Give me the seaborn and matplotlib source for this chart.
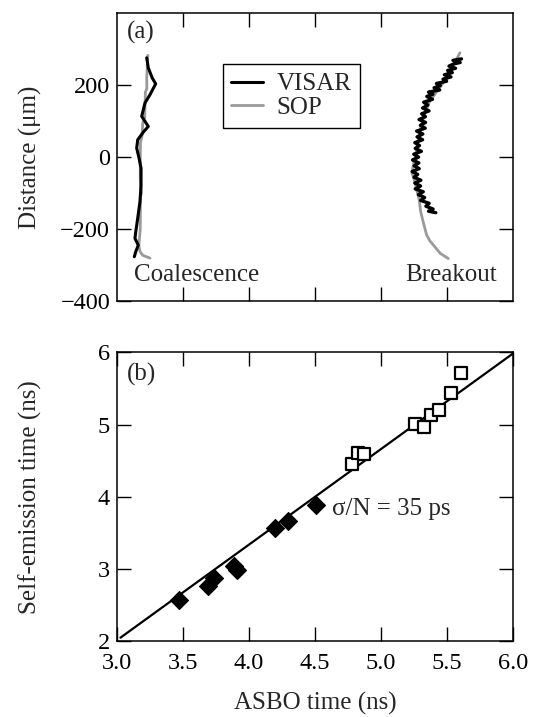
# 两个面板：(a) 冲击波前形状，(b) 自发光时间 vs ASBO 时间
import numpy as np
import matplotlib
matplotlib.use("Agg")
import matplotlib.pyplot as plt
import seaborn as sns

# (a) Coalescence 处 VISAR / SOP 曲线 (时间 ns, 距离 um)
coal_visar_t = [3.225, 3.237, 3.267, 3.293, 3.250, 3.212, 3.187, 3.237, 3.199, 3.157,
                3.149, 3.167, 3.182, 3.182, 3.174, 3.157, 3.142, 3.136, 3.161, 3.142, 3.131]
coal_visar_d = [275, 247, 219, 203, 173, 150, 113, 85, 69, 48,
                25, -3, -31, -77, -123, -169, -207, -225, -244, -262, -276]
coal_sop_t = [3.233, 3.230, 3.225, 3.226, 3.215, 3.212, 3.210, 3.195, 3.190, 3.178,
              3.176, 3.176, 3.185, 3.178, 3.176, 3.170, 3.165, 3.175, 3.195, 3.250]
coal_sop_d = [282, 255, 220, 190, 180, 140, 110, 95, 60, 40,
              0, -60, -100, -110, -200, -225, -245, -262, -272, -280]

# (a) Breakout 处 VISAR / SOP 曲线
brk_visar_d = [272, 268, 262, 258, 252, 246, 240, 234, 228, 222, 216, 210, 204, 198, 192,
               186, 180, 174, 168, 160, 152, 144, 136, 128, 120, 112, 104, 96, 88, 80,
               72, 64, 56, 48, 40, 32, 24, 16, 8, 0, -8, -16, -24, -32, -40,
               -48, -56, -64, -72, -80, -88, -96, -104, -112, -120, -128, -136, -144, -150, -154]
brk_visar_t = [5.610, 5.545, 5.600, 5.550, 5.515, 5.565, 5.505, 5.540, 5.480, 5.530, 5.470, 5.497, 5.420, 5.450, 5.402,
               5.445, 5.360, 5.393, 5.347, 5.390, 5.323, 5.355, 5.315, 5.364, 5.308, 5.337, 5.288, 5.338, 5.298, 5.335,
               5.270, 5.317, 5.273, 5.315, 5.256, 5.292, 5.259, 5.306, 5.248, 5.285, 5.239, 5.287, 5.251, 5.290, 5.236,
               5.278, 5.250, 5.302, 5.256, 5.300, 5.259, 5.320, 5.283, 5.331, 5.300, 5.365, 5.340, 5.395, 5.360, 5.415]
brk_sop_t = [5.598, 5.55, 5.49, 5.43, 5.37, 5.33, 5.30, 5.28, 5.26, 5.24, 5.235,
             5.25, 5.27, 5.29, 5.30, 5.32, 5.345, 5.37, 5.40, 5.45, 5.51]
brk_sop_d = [289, 255, 215, 185, 155, 120, 80, 40, 0, -30, -45,
             -60, -90, -120, -150, -180, -215, -232, -245, -267, -281]

# (b) 散点数据
asbo_filled = [3.473, 3.688, 3.732, 3.883, 3.909, 4.195, 4.299, 4.506]
self_filled = [2.562, 2.760, 2.876, 3.037, 2.991, 3.567, 3.659, 3.880]
asbo_open = [4.779, 4.826, 4.870, 5.260, 5.325, 5.377, 5.436, 5.532, 5.603]
self_open = [4.452, 4.604, 4.590, 5.009, 4.972, 5.134, 5.203, 5.442, 5.710]
fit_x = [3.026, 6.0]
fit_y = [2.046, 5.986]

sns.set_style("ticks")
plt.rcParams['font.family'] = ['Liberation Serif', 'DejaVu Serif']
plt.rcParams['font.size'] = 18

TICK_FS = 17.5
GRAY = '#9a9a9a'

fig = plt.figure(figsize=(5.37, 7.17), dpi=100)
ax1 = fig.add_axes([0.2179, 0.5795, 0.7374, 0.4028])
ax2 = fig.add_axes([0.2179, 0.106, 0.7374, 0.4024])

# 面板 (a)
sns.lineplot(x=coal_sop_t, y=coal_sop_d, sort=False, estimator=None, color=GRAY, lw=2, ax=ax1, label='SOP')
sns.lineplot(x=brk_sop_t, y=brk_sop_d, sort=False, estimator=None, color=GRAY, lw=2, ax=ax1)
sns.lineplot(x=coal_visar_t, y=coal_visar_d, sort=False, estimator=None, color='black', lw=2.2, ax=ax1, label='VISAR')
sns.lineplot(x=brk_visar_t, y=brk_visar_d, sort=False, estimator=None, color='black', lw=2.4, ax=ax1)

handles, labels = ax1.get_legend_handles_labels()
order = [labels.index('VISAR'), labels.index('SOP')]
leg = ax1.legend([handles[i] for i in order], [labels[i] for i in order],
                 loc='upper left', bbox_to_anchor=(0.2667, 0.822), borderaxespad=0,
                 fancybox=False, edgecolor='black', framealpha=1, handlelength=1.25,
                 handletextpad=0.55, labelspacing=0.05, borderpad=0.35, fontsize=18)
leg.get_frame().set_linewidth(1.0)

ax1.text(3.126, -327, 'Coalescence', va='center', ha='left')
ax1.text(5.18, -327, 'Breakout', va='center', ha='left')
ax1.text(0.026, 0.97, '(a)', transform=ax1.transAxes, va='top', ha='left')

ax1.set_xlim(3.0, 6.0)
ax1.set_ylim(-400, 400)
ax1.set_xticks(np.arange(3.5, 5.6, 0.5))
ax1.set_yticks([-400, -200, 0, 200])
ax1.set_yticklabels(['\u2212400', '\u2212200', '0', '200'])
ax1.tick_params(labelbottom=False)
ax1.set_ylabel('Distance (\u03bcm)')

# 面板 (b)
sns.lineplot(x=fit_x, y=fit_y, color='black', lw=1.6, ax=ax2)
sns.scatterplot(x=asbo_filled, y=self_filled, marker='D', s=85, color='black',
                edgecolor='black', ax=ax2, zorder=3)
sns.scatterplot(x=asbo_open, y=self_open, marker='s', s=75, facecolor='white',
                edgecolor='black', linewidth=1.6, ax=ax2, zorder=3)
ax2.text(4.625, 3.83, '\u03c3/N = 35 ps', va='center', ha='left')
ax2.text(0.026, 0.965, '(b)', transform=ax2.transAxes, va='top', ha='left')

ax2.set_xlim(3.0, 6.0)
ax2.set_ylim(2, 6)
ax2.set_xticks(np.arange(3.0, 6.01, 0.5))
ax2.set_xticklabels([f'{v:.1f}' for v in np.arange(3.0, 6.01, 0.5)])
ax2.set_yticks([2, 3, 4, 5, 6])
ax2.set_xlabel('ASBO time (ns)')
ax2.set_ylabel('Self-emission time (ns)')

for ax in (ax1, ax2):
    ax.tick_params(direction='in', length=10, width=1, top=True, right=True, pad=5,
                   labelsize=TICK_FS, colors='black')
    for sp in ax.spines.values():
        sp.set_linewidth(1.1)
        sp.set_color('black')
    ax.yaxis.set_label_coords(-0.19, 0.5)

ax2.tick_params(axis='x', pad=9)
ax2.xaxis.set_label_coords(0.5, -0.175)

fig.savefig('out.png', dpi=100)
